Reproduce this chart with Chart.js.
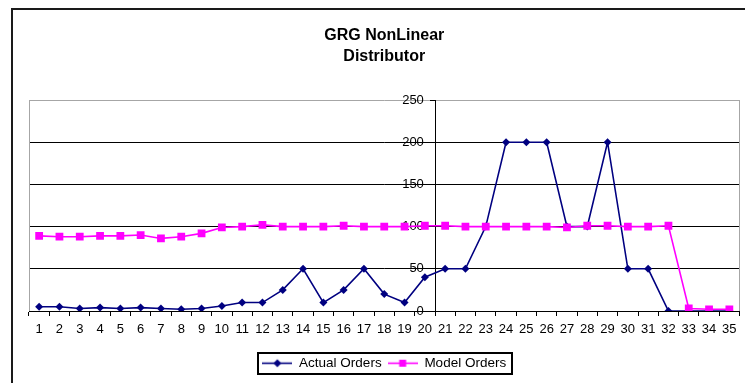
<!DOCTYPE html>
<html>
<head>
<meta charset="utf-8">
<title>GRG NonLinear Distributor</title>
<script src="https://cdn.jsdelivr.net/npm/chart.js@4/dist/chart.umd.min.js"></script>
<style>
  html, body { margin: 0; padding: 0; background: #fff; overflow: hidden; }
  #wrap { position: relative; width: 745px; height: 383px; }
</style>
</head>
<body>
<div id="wrap"><canvas id="chart" width="745" height="383"></canvas></div>
<script>
// Periods 1..35
const periods = ['1','2','3','4','5','6','7','8','9','10','11','12','13','14','15','16','17','18',
                 '19','20','21','22','23','24','25','26','27','28','29','30','31','32','33','34','35'];

// Orders actually placed each period
const actualOrders = [5, 5, 3, 4, 3, 4, 3, 2, 3, 6, 10, 10, 25, 50, 10, 25, 50, 20, 10, 40,
                      50, 50, 100, 200, 200, 200, 100, 100, 200, 50, 50, 0, 0, 0, 0];

// Orders produced by the GRG non-linear model
const modelOrders = [89, 88, 88, 89, 89, 90, 86, 88, 92, 99, 100, 102, 100, 100, 100, 101, 100, 100, 100, 101,
                     101, 100, 100, 100, 100, 100, 99, 101, 101, 100, 100, 101, 3, 2, 2];

// Value axis ticks
const yTicks = [0, 50, 100, 150, 200, 250];

// The value axis crosses the category axis between periods 20 and 21
const AXIS_CROSS = 19.5;      // category index (0-based) of the crossing
const LABEL_SHIFT = 0.55;     // value labels sit a little left of the axis line

const NAVY = '#000080';
const MAGENTA = '#ff00ff';
const tickFont = { family: '"Liberation Sans", Arial, sans-serif', size: 13 };

// Legend swatches: a short line with the series marker in its middle
function swatch(color, marker) {
  const c = document.createElement('canvas');
  c.width = 30; c.height = 11;
  const g = c.getContext('2d');
  g.strokeStyle = color; g.lineWidth = 1.6;
  g.beginPath(); g.moveTo(0, 5.5); g.lineTo(30, 5.5); g.stroke();
  g.fillStyle = color;
  g.beginPath();
  if (marker === 'diamond') {
    g.moveTo(15, 1.5); g.lineTo(19, 5.5); g.lineTo(15, 9.5); g.lineTo(11, 5.5); g.closePath();
  } else {
    g.rect(11.5, 2, 7, 7);
  }
  g.fill();
  return c;
}
const legendSwatches = [swatch(NAVY, 'diamond'), swatch(MAGENTA, 'square')];

// White page, outer chart frame, and the grey plot-area sides
const framePlugin = {
  id: 'frame',
  beforeDraw(chart) {
    const ctx = chart.ctx;
    ctx.save();
    ctx.fillStyle = '#fff';
    ctx.fillRect(0, 0, chart.width, chart.height);
    ctx.strokeStyle = '#1a1a1a';
    ctx.lineWidth = 2;
    ctx.beginPath();
    ctx.moveTo(12, chart.height + 2);
    ctx.lineTo(12, 9);
    ctx.lineTo(chart.width + 2, 9);
    ctx.stroke();
    ctx.restore();
  },
  beforeDatasetsDraw(chart) {
    const { ctx, chartArea: a } = chart;
    ctx.save();
    ctx.strokeStyle = '#a6a6a6';
    ctx.lineWidth = 1;
    ctx.beginPath();
    ctx.moveTo(Math.round(a.left) + 0.5, a.top); ctx.lineTo(Math.round(a.left) + 0.5, a.bottom);
    ctx.moveTo(Math.round(a.right) - 0.5, a.top); ctx.lineTo(Math.round(a.right) - 0.5, a.bottom);
    ctx.stroke();
    ctx.restore();
  }
};

// Box drawn around the legend entries
const legendBoxPlugin = {
  id: 'legendBox',
  afterDraw(chart) {
    const boxes = chart.legend && chart.legend.legendHitBoxes;
    if (!boxes || !boxes.length) return;
    const first = boxes[0], last = boxes[boxes.length - 1];
    const l = Math.round(first.left - 4.5), r = Math.round(last.left + last.width + 6);
    const t = Math.round(first.top - 3.5), b = Math.round(first.top + first.height + 4);
    const ctx = chart.ctx;
    ctx.save();
    ctx.strokeStyle = '#000';
    ctx.lineWidth = 2;
    ctx.strokeRect(l, t, r - l, b - t);
    ctx.restore();
  }
};

new Chart(document.getElementById('chart'), {
  type: 'line',
  data: {
    labels: periods,
    datasets: [
      {
        label: 'Actual Orders',
        data: actualOrders,
        borderColor: NAVY,
        backgroundColor: NAVY,
        borderWidth: 1.6,
        pointStyle: 'rectRot',
        pointRadius: 4,
        pointBorderWidth: 0,
        tension: 0,
        order: 1
      },
      {
        label: 'Model Orders',
        data: modelOrders,
        borderColor: MAGENTA,
        backgroundColor: MAGENTA,
        borderWidth: 1.6,
        pointStyle: 'rect',
        pointRadius: 5.5,
        pointBorderWidth: 0,
        tension: 0,
        order: 0
      }
    ]
  },
  options: {
    responsive: false,
    animation: false,
    devicePixelRatio: 1,
    layout: { padding: { left: 29, right: 3, top: 0, bottom: 3 } },
    scales: {
      x: {
        offset: true,
        grid: { offset: true, drawOnChartArea: false, tickLength: 5, tickColor: '#000', lineWidth: 1 },
        border: { color: '#000', width: 1 },
        ticks: { font: tickFont, color: '#000', padding: 6, maxRotation: 0, autoSkip: false },
        afterFit(scale) { scale.height = 39.5; }
      },
      // value axis: gridlines, axis line and tick marks
      y: {
        position: { x: AXIS_CROSS },
        min: 0,
        max: 250,
        afterBuildTicks(scale) { scale.ticks = yTicks.map(v => ({ value: v })); },
        grid: {
          color: (c) => (c.tick && c.tick.value === 250 ? '#a6a6a6' : '#000'),
          tickColor: '#000',
          tickLength: 5,
          lineWidth: 1
        },
        border: { color: '#000', width: 1 },
        ticks: { display: false }
      },
      // value axis labels
      yLabels: {
        axis: 'y',
        position: { x: AXIS_CROSS - LABEL_SHIFT },
        min: 0,
        max: 250,
        afterBuildTicks(scale) { scale.ticks = yTicks.map(v => ({ value: v })); },
        grid: { display: false },
        border: { display: false },
        ticks: { font: tickFont, color: '#000' }
      }
    },
    plugins: {
      title: {
        display: true,
        text: ['GRG NonLinear', 'Distributor'],
        color: '#000',
        fullSize: false,
        font: { family: '"Liberation Sans", Arial, sans-serif', size: 16, weight: 'bold', lineHeight: 1.3125 },
        padding: { top: 25, bottom: 33 }
      },
      legend: {
        position: 'bottom',
        fullSize: false,
        labels: {
          usePointStyle: true,
          pointStyleWidth: 30,
          padding: 6,
          color: '#000',
          font: { family: '"Liberation Sans", Arial, sans-serif', size: 13.5 },
          sort: (a, b) => a.datasetIndex - b.datasetIndex,
          generateLabels(chart) {
            const items = Chart.defaults.plugins.legend.labels.generateLabels(chart);
            items.forEach(it => { it.pointStyle = legendSwatches[it.datasetIndex]; it.lineWidth = 0; });
            return items;
          }
        }
      },
      tooltip: { enabled: false }
    }
  },
  plugins: [framePlugin, legendBoxPlugin]
});
</script>
</body>
</html>
